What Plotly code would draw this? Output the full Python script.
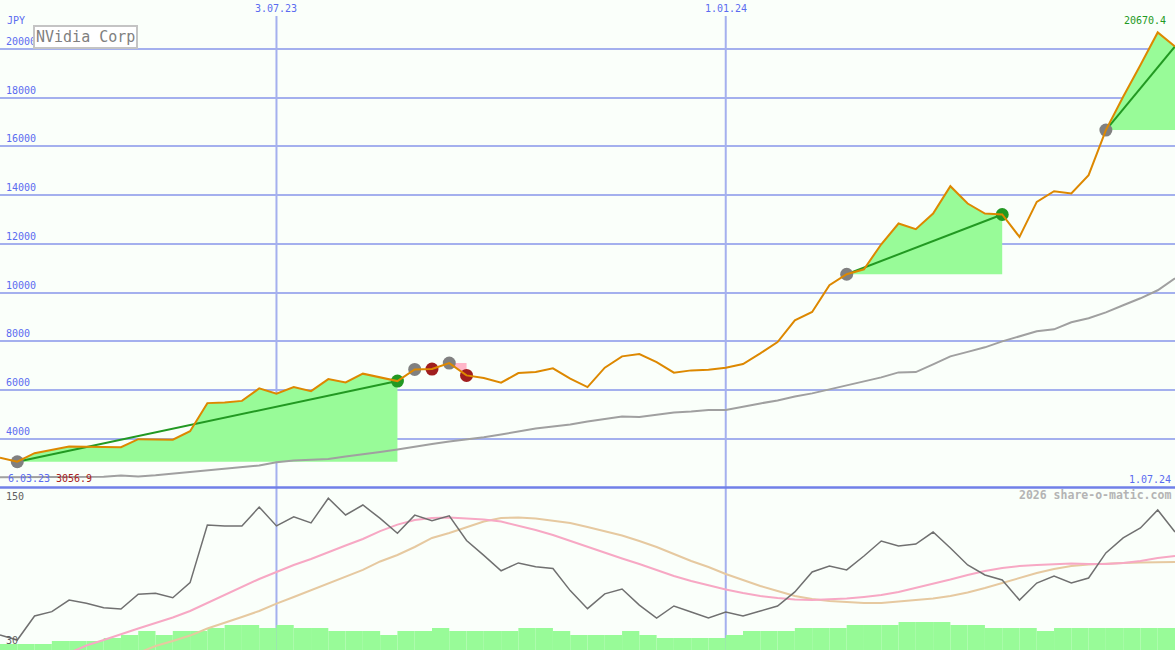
import pandas as pd
import plotly.graph_objects as go

# ---------------- data ----------------
start_date = "2023-03-13"
end_date = "2024-07-01"
n_weeks = 69
dates = list(pd.date_range(start_date, periods=n_weeks, freq="7D"))

close = [3220, 3056.9, 3409, 3532, 3684, 3671, 3655, 3655, 3984, 3959,
         3959, 4312, 5462, 5491, 5553, 6066, 5848, 6119, 5955, 6448,
         6312, 6670, 6530, 6366, 6846, 6859, 7105, 6600, 6489, 6300,
         6694, 6735, 6887, 6464, 6119, 6916, 7380, 7475, 7146, 6711,
         6805, 6834, 6916, 7064, 7503, 7968, 8859, 9200, 10296, 10748,
         10953, 11980, 12830, 12596, 13241, 14362, 13651, 13241, 13200, 12280,
         13717, 14157, 14062, 14814, 16662, 18030, 19331, 20670.4, 20095]

moving_avg = [2423, 2423, 2423, 2423, 2423, 2423, 2440, 2493, 2452, 2500,
              2563, 2630, 2698, 2760, 2821, 2904, 3039, 3109, 3138, 3170,
              3273, 3355, 3458, 3561, 3684, 3787, 3889, 3971, 4066, 4177,
              4300, 4423, 4505, 4587, 4711, 4813, 4916, 4895, 4998, 5080,
              5121, 5183, 5183, 5327, 5450, 5573, 5737, 5861, 6025, 6189,
              6353, 6518, 6723, 6735, 7052, 7380, 7565, 7750, 7996, 8202,
              8407, 8489, 8777, 8941, 9187, 9475, 9762, 10091, 10584]

oscillator = [41.1, 37.4, 55.2, 58.4, 67, 64.6, 61.3, 60.4, 71.3, 72,
              68.7, 79.9, 122.6, 121.9, 121.9, 135.9, 121.9, 128.7, 124.1, 142.4,
              130, 137.4, 127.5, 116.5, 129.9, 125.8, 129.4, 111.1, 100.1, 88.7,
              94.5, 91.6, 90.4, 74, 60.6, 71.6, 75.2, 63.3, 53.7, 62.6,
              58.1, 53.7, 58.1, 55.2, 58.9, 62.6, 73, 87.8, 92.2, 89.3,
              99.6, 110.7, 107, 108.5, 117.4, 105.6, 93, 85.6, 81.9, 67,
              79.6, 84.8, 79.6, 83.3, 101.9, 113, 120.4, 133.7, 117.4]

osc_fast = [None, None, None, None,
            27.8, 33.3, 37.4, 41.9, 45.9, 50, 54.1, 58.9, 64.8, 70.7,
            76.7, 82.6, 87.8, 93, 97.4, 102.6, 107.4, 112.2, 118.1, 122.9,
            126.3, 127.8, 128.2, 127.4, 126.7, 125.2, 122.2, 118.9, 115.2, 110.7,
            106.7, 102.2, 97.8, 93.7, 89.3, 84.8, 81.1, 77.8, 74.8, 72.2,
            70, 68.5, 67.4, 67, 67.4, 68.1, 69.3, 70.7, 73, 75.9,
            78.9, 82.2, 85.6, 88.5, 90.7, 92.2, 93, 93.7, 94.1, 93.7,
            93.7, 94.4, 95.9, 98.1, 99.6]

osc_slow = [None] * 8 + [
    27.8, 33, 36.7, 40.7, 45.9, 50, 54.4, 58.9, 64.4, 69.3,
    74.4, 79.3, 84.1, 89.3, 95.6, 100.4, 106.3, 113, 116.7, 120.7,
    125.2, 127.8, 128.2, 127.4, 125.9, 124.1, 121.1, 118.1, 114.8, 110.7,
    106.3, 101.1, 95.9, 91.5, 86.3, 81.9, 77.4, 73.7, 70, 67.8,
    66.3, 65.6, 64.9, 64.9, 65.9, 67, 68.1, 70, 72.6, 75.9,
    79.6, 83.3, 87, 90, 92.2, 93.3, 94.1, 94.4, 94.8, 94.8, 95.2]

volume = [6, 6, 6, 9, 9, 9, 12, 15, 19, 15,
          19, 19, 22, 25, 25, 22, 25, 22, 22, 19,
          19, 19, 15, 19, 19, 22, 19, 19, 19, 19,
          22, 22, 19, 15, 15, 15, 19, 15, 12, 12,
          12, 12, 15, 19, 19, 19, 22, 22, 22, 25,
          25, 25, 28, 28, 28, 25, 25, 22, 22, 22,
          19, 22, 22, 22, 22, 22, 22, 22, 22]

gain_regions = [(1, 23), (49, 58), (64, 68)]
loss_regions = [(26, 27)]
gray_marks = [1, 24, 26, 49, 64]
green_marks = [23, 58]
red_marks = [25, 27]

price_ticks = [4000, 6000, 8000, 10000, 12000, 14000, 16000, 18000, 20000]
date_ticks = ["2023-07-03", "2024-01-01"]
title = "NVidia Corp"
currency = "JPY"
first_label = "6.03.23"
low_label = "3056.9"
last_date_label = "1.07.24"
high_label = "20670.4"

# ---------------- styles ----------------
W, H = 1175, 650
BG = "#fafffa"
GRID = "#a4b0ee"
BLUE = "#5a6cf0"
FONT = "DejaVu Sans Mono"
FS = 10
ORANGE = "#dd8800"
FILL_GREEN = "#98fb98"
LINE_GREEN = "#229922"
top_dom = [1 - 487.5 / H, 1]
bot_dom = [0, 162 / H]

fig = go.Figure()

# volume bars (bottom panel)
fig.add_trace(go.Bar(x=dates, y=volume, width=7 * 86400000, offset=0,
                     marker=dict(color=FILL_GREEN, line=dict(width=0)),
                     yaxis="y2", hoverinfo="skip"))

# green gain fills
for a, b in gain_regions:
    xs = dates[a:b + 1] + [dates[b], dates[a]]
    ys = close[a:b + 1] + [close[a], close[a]]
    fig.add_trace(go.Scatter(x=xs, y=ys, fill="toself", fillcolor=FILL_GREEN,
                             mode="lines", line=dict(width=0), yaxis="y"))
for a, b in loss_regions:
    xs = [dates[a], dates[b], dates[b], dates[a]]
    ys = [close[a], close[a], close[b], close[a]]
    fig.add_trace(go.Scatter(x=xs, y=ys, fill="toself", fillcolor="#ffb6c8",
                             mode="lines", line=dict(width=0), yaxis="y"))

# moving average
fig.add_trace(go.Scatter(x=dates, y=moving_avg, mode="lines",
                         line=dict(color="#a0a0a0", width=2), yaxis="y"))

# trend lines
for a, b in gain_regions:
    fig.add_trace(go.Scatter(x=[dates[a], dates[b]], y=[close[a], close[b]],
                             mode="lines", line=dict(color=LINE_GREEN, width=2),
                             yaxis="y"))

# signal markers
for idx, col in ((gray_marks, "#808080"), (green_marks, LINE_GREEN),
                 (red_marks, "#a01e1e")):
    fig.add_trace(go.Scatter(x=[dates[i] for i in idx], y=[close[i] for i in idx],
                             mode="markers",
                             marker=dict(size=13, color=col, line=dict(width=0)),
                             yaxis="y"))

# price line
fig.add_trace(go.Scatter(x=dates, y=close, mode="lines",
                         line=dict(color=ORANGE, width=2), yaxis="y"))

# oscillator panel
fig.add_trace(go.Scatter(x=dates, y=osc_slow, mode="lines",
                         line=dict(color="#e6c9a0", width=2), yaxis="y3"))
fig.add_trace(go.Scatter(x=dates, y=osc_fast, mode="lines",
                         line=dict(color="#f7a8c4", width=2), yaxis="y3"))
fig.add_trace(go.Scatter(x=dates, y=oscillator, mode="lines",
                         line=dict(color="#707070", width=1.5), yaxis="y3"))

shapes = []
for d in date_ticks:
    shapes.append(dict(type="line", xref="x", yref="paper", x0=d, x1=d,
                       y0=0, y1=1 - 16 / H, layer="below",
                       line=dict(color=GRID, width=2)))
shapes.append(dict(type="line", xref="paper", yref="paper", x0=0, x1=1,
                   y0=1 - 487.5 / H, y1=1 - 487.5 / H, layer="above",
                   line=dict(color="#7080e8", width=2.5)))


def px(x):
    return x / W


def py(y):
    return 1 - y / H


ann = []
for v in price_ticks:
    ann.append(dict(text=str(v), xref="paper", yref="y", x=px(4), y=v,
                    xanchor="left", yanchor="bottom", showarrow=False,
                    font=dict(family=FONT, size=FS, color=BLUE)))
for d in date_ticks:
    ts = pd.Timestamp(d)
    ann.append(dict(text=f"{ts.day}.{ts:%m}.{ts:%y}", xref="x", yref="paper",
                    x=d, y=py(8), xanchor="center", yanchor="middle",
                    showarrow=False, font=dict(family=FONT, size=FS, color=BLUE)))
ann += [
    dict(text=currency, xref="paper", yref="paper", x=px(5), y=py(20),
         xanchor="left", yanchor="middle", showarrow=False,
         font=dict(family=FONT, size=FS, color=BLUE)),
    dict(text=title, xref="paper", yref="paper", x=px(33), y=py(25),
         xanchor="left", yanchor="top", showarrow=False, bgcolor="#ffffff",
         bordercolor="#c4c4c4", borderwidth=2, borderpad=1,
         font=dict(family=FONT, size=15, color="#808080")),
    dict(text=high_label, xref="paper", yref="paper", x=px(1168), y=py(21),
         xanchor="right", yanchor="middle", showarrow=False,
         font=dict(family=FONT, size=FS, color=LINE_GREEN)),
    dict(text=first_label, xref="paper", yref="paper", x=px(6), y=py(478),
         xanchor="left", yanchor="middle", showarrow=False,
         font=dict(family=FONT, size=FS, color=BLUE)),
    dict(text=low_label, xref="paper", yref="paper", x=px(54), y=py(478),
         xanchor="left", yanchor="middle", showarrow=False,
         font=dict(family=FONT, size=FS, color="#a82020")),
    dict(text=last_date_label, xref="paper", yref="paper", x=px(1173), y=py(479),
         xanchor="right", yanchor="middle", showarrow=False,
         font=dict(family=FONT, size=FS, color=BLUE)),
    dict(text="<b>2026 share-o-matic.com</b>", xref="paper", yref="paper",
         x=px(1173), y=py(495), xanchor="right", yanchor="middle",
         showarrow=False, font=dict(family=FONT, size=11.5, color="#b4b4b4")),
    dict(text="150", xref="paper", yref="paper", x=px(4), y=py(496),
         xanchor="left", yanchor="middle", showarrow=False,
         font=dict(family=FONT, size=FS, color="#606060")),
    dict(text="30", xref="paper", yref="paper", x=px(4), y=py(640),
         xanchor="left", yanchor="middle", showarrow=False,
         font=dict(family=FONT, size=FS, color="#606060")),
]

fig.update_layout(
    width=W, height=H, margin=dict(l=0, r=0, t=0, b=0),
    paper_bgcolor=BG, plot_bgcolor=BG, showlegend=False,
    hovermode=False,
    xaxis=dict(type="date", range=[start_date, end_date], showgrid=False,
               showticklabels=False, zeroline=False, showline=False,
               anchor="y2"),
    yaxis=dict(domain=top_dom, range=[2000, 22000], tickvals=price_ticks,
               showticklabels=False, showgrid=True, gridcolor=GRID,
               gridwidth=2, zeroline=False, anchor="x"),
    yaxis2=dict(domain=bot_dom, range=[0, 162], showgrid=False,
                showticklabels=False, zeroline=False, anchor="x"),
    yaxis3=dict(overlaying="y2", range=[30, 150], showgrid=False,
                showticklabels=False, zeroline=False, anchor="x"),
    shapes=shapes, annotations=ann,
)

fig.write_html(
    "out.html",
    config={"displayModeBar": False},
    post_script="document.body.style.margin='0';"
                "document.body.style.overflow='hidden';",
)
